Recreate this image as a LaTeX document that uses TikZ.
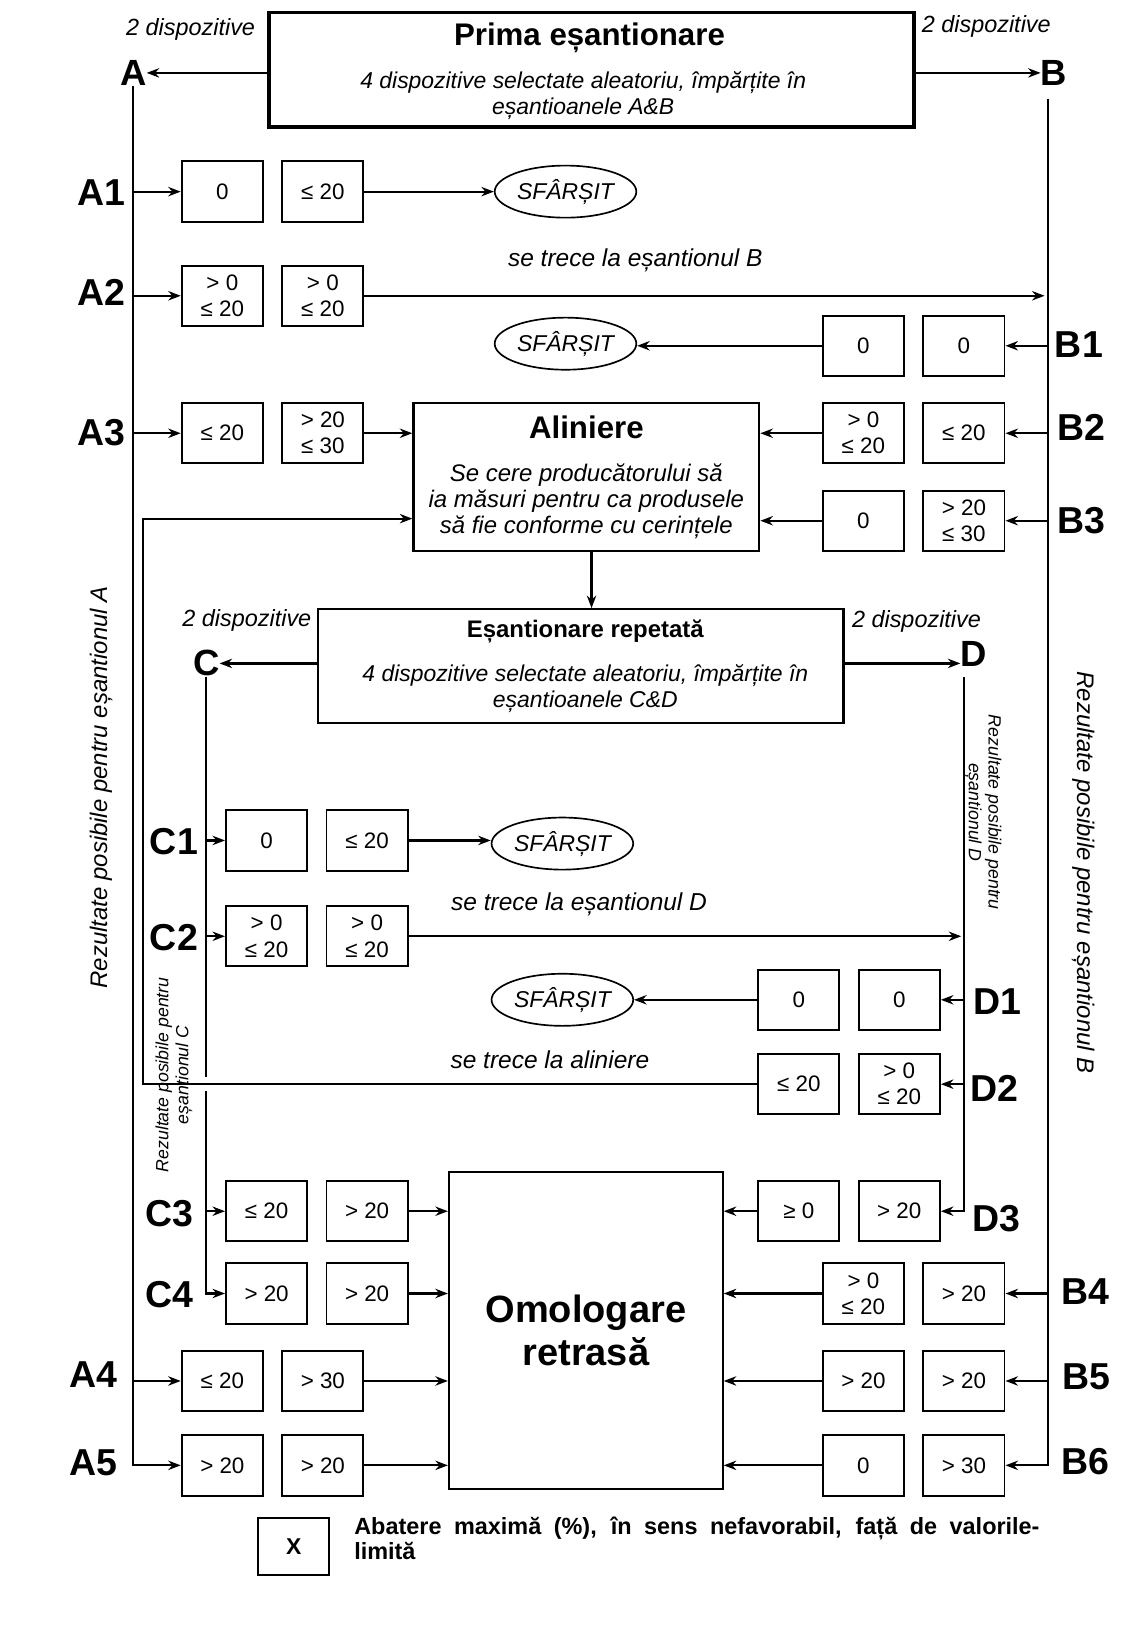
\documentclass[tikz,border=0pt]{standalone}
\usepackage{fontspec}
\setmainfont{Liberation Sans}
\usetikzlibrary{shapes.geometric,arrows.meta,calc}
\begin{document}
\begin{tikzpicture}[x=1pt,y=-1pt]
\tikzset{
 val/.style={draw, line width=1.9pt, minimum width=78pt, minimum height=58pt, inner sep=0pt, align=center, font=\fontsize{21.5}{25}\selectfont},
 lab/.style={font=\fontsize{36}{40}\selectfont\bfseries, inner sep=0pt},
 big/.style={font=\fontsize{35}{38}\selectfont\bfseries, inner sep=0pt},
 fin/.style={ellipse, draw, line width=1.6pt, minimum width=136pt, minimum height=50pt, inner sep=0pt, font=\fontsize{22}{24}\selectfont\itshape},
 arr/.style={-{Stealth[length=12pt,width=9pt]}, line width=2.1pt},
 note/.style={font=\fontsize{22}{25}\selectfont\itshape, inner sep=0pt, align=center},
 ttl/.style={font=\fontsize{30}{32}\selectfont\bfseries, inner sep=0pt},
 frame/.style={draw, inner sep=0pt},
 rot/.style={font=\fontsize{23}{26}\selectfont\itshape, inner sep=0pt},
 rots/.style={font=\fontsize{17}{19}\selectfont\itshape, inner sep=0pt, align=center},
 pass/.style={font=\fontsize{23.5}{26}\selectfont\itshape, inner sep=0pt},
}
\useasboundingbox (0,0) rectangle (1098,1568);
\fill[white] (0,0) rectangle (1098,1568);

% ---------- top box ----------
\node[frame, line width=3.8pt, minimum width=620pt, minimum height=110pt] (TB) at (568,67) {};
\node[ttl] (TBt) at (566,36) {Prima eșantionare};
\node[note] (TBs) at (560,92) {4 dispozitive selectate aleatoriu, împărțite în\\eșantioanele A\&B};
\node[note, font=\fontsize{22.5}{25}\selectfont\itshape] (dA) at (183,28) {2 dispozitive};
\node[note, font=\fontsize{22.5}{25}\selectfont\itshape] (dB) at (947,25) {2 dispozitive};
\node[big] (A) at (128,70) {A};
\node[big] (B) at (1012,70) {B};
\coordinate (Bl) at (1006,95);

% ---------- A / B rows ----------
\node[val] (A1a) at (213.5,184) {0};
\node[val] (A1b) at (310,184) {≤ 20};
\node[val] (A2a) at (213.5,284) {> 0\\≤ 20};
\node[val] (A2b) at (310,284) {> 0\\≤ 20};
\node[val] (A3a) at (213.5,416) {≤ 20};
\node[val] (A3b) at (310,416) {> 20\\≤ 30};
\node[val] (A4a) at (213.5,1326) {≤ 20};
\node[val] (A4b) at (310,1326) {> 30};
\node[val] (A5a) at (213.5,1407) {> 20};
\node[val] (A5b) at (310,1407) {> 20};

\node[val] (B1a) at (829,332) {0};
\node[val] (B1b) at (925.5,332) {0};
\node[val] (B2a) at (829,416) {> 0\\≤ 20};
\node[val] (B2b) at (925.5,416) {≤ 20};
\node[val] (B3a) at (829,500) {0};
\node[val] (B3b) at (925.5,500) {> 20\\≤ 30};
\node[val] (B4a) at (829,1242) {> 0\\≤ 20};
\node[val] (B4b) at (925.5,1242) {> 20};
\node[val] (B5a) at (829,1326) {> 20};
\node[val] (B5b) at (925.5,1326) {> 20};
\node[val] (B6a) at (829,1407) {0};
\node[val] (B6b) at (925.5,1407) {> 30};

\node[lab] (lA1) at (97,185) {A1};
\node[lab] (lA2) at (97,281) {A2};
\node[lab] (lA3) at (97,415) {A3};
\node[lab] (lA4) at (90,1320) {A4};
\node[lab] (lA5) at (90,1405) {A5};
\node[lab] (lB1) at (1036,331) {B1};
\node[lab] (lB2) at (1038,410) {B2};
\node[lab] (lB3) at (1038,500) {B3};
\node[lab] (lB4) at (1042,1240) {B4};
\node[lab] (lB5) at (1043,1322) {B5};
\node[lab] (lB6) at (1042,1403) {B6};

\node[fin] (S1) at (543,184) {SFÂRȘIT};
\node[fin] (S2) at (543,330) {SFÂRȘIT};

% ---------- Aliniere ----------
\node[frame, line width=2.2pt, minimum width=332pt, minimum height=142pt] (Al) at (563,458) {};
\node[ttl] (Alt) at (563,410) {Aliniere};
\node[note, font=\fontsize{23}{25}\selectfont\itshape] (Als) at (563,481) {Se cere producătorului să\\ia măsuri pentru ca produsele\\să fie conforme cu cerințele};

% ---------- repeated sampling ----------
\node[frame, line width=2.2pt, minimum width=505pt, minimum height=109pt] (ER) at (557.5,639.5) {};
\node[font=\fontsize{23}{26}\selectfont\bfseries, inner sep=0pt] (ERt) at (562,606) {Eșantionare repetată};
\node[note] (ERs) at (562,661) {4 dispozitive selectate aleatoriu, împărțite în\\eșantioanele C\&D};
\node[note, font=\fontsize{22.5}{25}\selectfont\itshape] (dC) at (237,596) {2 dispozitive};
\node[note, font=\fontsize{22.5}{25}\selectfont\itshape] (dD) at (880,597) {2 dispozitive};
\node[big] (C) at (198,637) {C};
\node[big] (D) at (935,628) {D};
\coordinate (Dl) at (926,650);

\node[val] (C1a) at (256,807) {0};
\node[val] (C1b) at (352.5,807) {≤ 20};
\node[val] (C2a) at (256,899) {> 0\\≤ 20};
\node[val] (C2b) at (352.5,899) {> 0\\≤ 20};
\node[val] (C3a) at (256,1163) {≤ 20};
\node[val] (C3b) at (352.5,1163) {> 20};
\node[val] (C4a) at (256,1242) {> 20};
\node[val] (C4b) at (352.5,1242) {> 20};

\node[val] (D1a) at (767,960) {0};
\node[val] (D1b) at (863.5,960) {0};
\node[val] (D2a) at (767,1041) {≤ 20};
\node[val] (D2b) at (863.5,1041) {> 0\\≤ 20};
\node[val] (D3a) at (767,1163) {≥ 0};
\node[val] (D3b) at (863.5,1163) {> 20};

\node[lab] (lC1) at (167,808) {C1};
\node[lab] (lC2) at (167,900) {C2};
\node[lab] (lC3) at (163,1165) {C3};
\node[lab] (lC4) at (163,1243) {C4};
\node[lab] (lD1) at (958,962) {D1};
\node[lab] (lD2) at (955,1045) {D2};
\node[lab] (lD3) at (957,1170) {D3};

\node[fin] (S3) at (540,810) {SFÂRȘIT};
\node[fin] (S4) at (540,960) {SFÂRȘIT};

% ---------- Omologare ----------
\node[frame, line width=1.9pt, minimum width=263pt, minimum height=305pt, align=center,
      font=\fontsize{36.5}{41}\selectfont\bfseries] (Om) at (562.5,1277.5) {Omologare\\retrasă};

% ---------- connectors ----------
\draw[arr] (A.east -| TB.west) -- (A.east);
\draw[arr] (B.west -| TB.east) -- (B.west);
\draw[arr] (A.south) |- (A5a.west);
\draw[arr] (Bl) |- (B6b.east);
\foreach \n in {A1,A2,A3,A4} \draw[arr] (\n a.west -| A.south) -- (\n a.west);
\foreach \n in {B1,B2,B3,B4,B5} \draw[arr] (\n b.east -| Bl) -- (\n b.east);
\draw[arr] (A1b.east) -- (A1b.east -| S1.west);
\draw[arr, shorten >=3pt] (A2b.east) -- (A2b.east -| Bl);
\draw[arr] (B1a.west) -- (B1a.west -| S2.east);
\draw[arr] (A3b.east) -- (A3b.east -| Al.west);
\draw[arr] (B2a.west) -- (B2a.west -| Al.east);
\draw[arr] (B3a.west) -- (B3a.west -| Al.east);
\draw[arr] (Al.south -| 568,0) -- (ER.north -| 568,0);
\draw[arr] (C.east -| ER.west) -- (C.east);
\draw[arr] (ER.east |- C.east) -- (D.west |- C.east);

\draw[arr] (C.south) |- (C4a.west);
\draw[arr] (Dl) |- (D3b.east);
\foreach \n in {C1,C2,C3} \draw[arr] (\n a.west -| C.south) -- (\n a.west);
\foreach \n in {D1,D2} \draw[arr] (\n b.east -| Dl) -- (\n b.east);
\draw[arr] (C1b.east) -- (C1b.east -| S3.west);
\draw[arr, shorten >=3pt] (C2b.east) -- (C2b.east -| Dl);
\draw[arr] (D1a.west) -- (D1a.west -| S4.east);

% loop back to Aliniere, with a gap in line C
\coordinate (Lk) at (137,498);
\fill[white] ($(C.south |- D2a.west)+(-5,-7)$) rectangle ($(C.south |- D2a.west)+(5,7)$);
\draw[arr, line width=1.7pt] (D2a.west) -| (Lk) -- (Lk -| Al.west);

\foreach \n in {C3,C4,A4,A5} \draw[arr] (\n b.east) -- (\n b.east -| Om.west);
\foreach \n in {D3,B4,B5,B6} \draw[arr] (\n a.west) -- (\n a.west -| Om.east);

% ---------- labels ----------
\node[pass] (tB) at (610,250) {se trece la eșantionul B};
\node[pass] (tD) at (556,868) {se trece la eșantionul D};
\node[pass] (tAl) at (528,1018) {se trece la aliniere};

\node[rot, rotate=90] (RA) at (97,756) {Rezultate posibile pentru eșantionul A};
\node[rot, rotate=-90] (RB) at (1040,838) {Rezultate posibile pentru eșantionul B};
\node[rots, rotate=90] (RC) at (167,1032) {Rezultate posibile pentru\\eșantionul C};
\node[rots, rotate=-90] (RD) at (944,780) {Rezultate posibile pentru\\eșantionul D};

% ---------- legend ----------
\node[val, minimum width=68pt, minimum height=54pt, font=\fontsize{22}{25}\selectfont\bfseries] (X) at (282,1485) {X};
\node[anchor=north west, inner sep=0pt, align=left, font=\fontsize{22.5}{24}\selectfont\bfseries] (leg) at (340,1456)
 {\makebox[658pt][s]{Abatere maximă (\%), în sens nefavorabil, față de valorile-}\\limită};
\end{tikzpicture}
\end{document}
